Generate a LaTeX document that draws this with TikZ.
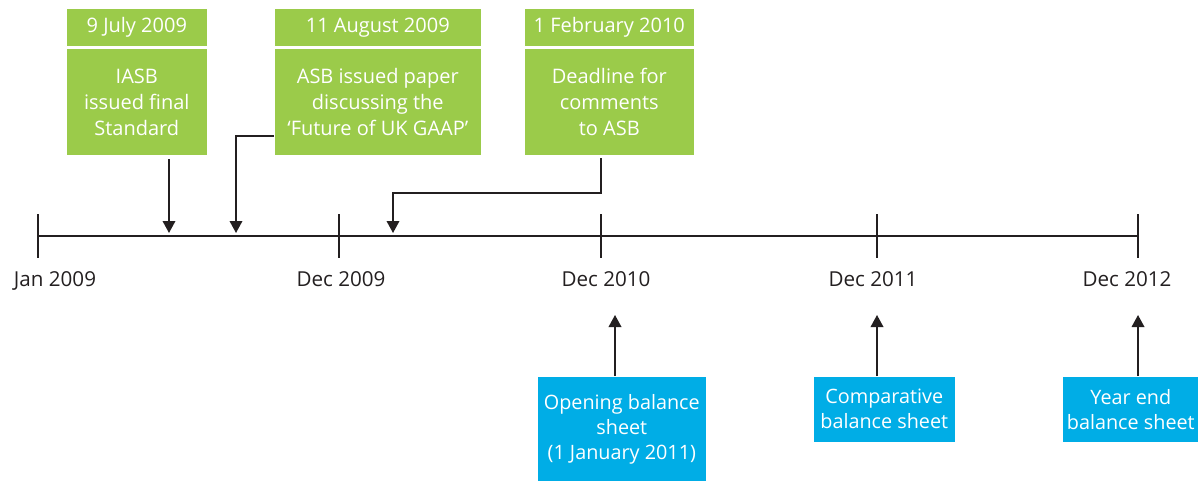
\documentclass[tikz,border=0pt]{standalone}
\usepackage{fontspec}
\setmainfont{Open Sans}
\usepackage{tikz}
\usetikzlibrary{arrows.meta, positioning}

\definecolor{leaf}{HTML}{9BCB4A}
\definecolor{sky}{HTML}{00ADE6}
\definecolor{ink}{HTML}{231F20}

\begin{document}
\begin{tikzpicture}[x=0.5pt,y=-0.5pt,thick,color=ink,>={Triangle[width=6.3pt,length=6pt]},font=\fontsize{10}{13}\selectfont]
		\tikzstyle{datebox}=[fill=leaf,text=white,anchor=north west,minimum height=18.5pt,inner sep=0pt]
		\tikzstyle{eventbox}=[fill=leaf,text=white,align=center,minimum height=53pt,inner sep=0pt]
		\tikzstyle{sheetbox}=[fill=sky,text=white,align=center,anchor=north west,inner sep=0pt,font=\fontsize{9.9}{12.5}\selectfont]
		\tikzstyle{year}=[text=ink,anchor=base,font=\fontsize{10.3}{13}\selectfont]
		
		\useasboundingbox (0,0) rectangle (1198,481);
		
		% timeline
		\coordinate (t_0) at (38,236);
		\coordinate (t_1) at (339,236);
		\coordinate (t_2) at (601,236);
		\coordinate (t_3) at (877,236);
		\coordinate (t_4) at (1138,236);
		\draw (t_0) -- (t_4);
		\draw (t_0) ++(0,-22) -- ++(0,44);
		\draw (t_1) ++(0,-22) -- ++(0,44);
		\draw (t_2) ++(0,-22) -- ++(0,44);
		\draw (t_3) ++(0,-22) -- ++(0,44);
		\draw (t_4) ++(0,-22) -- ++(0,44);
		
		\node (y_0) at (55,286) [year] {Jan 2009};
		\node (y_1) at (341,286) [year] {Dec 2009};
		\node (y_2) at (606,286) [year] {Dec 2010};
		\node (y_3) at (873,286) [year] {Dec 2011};
		\node (y_4) at (1127,286) [year] {Dec 2012};
		
		% events
		\node (h_1) at (66,8) [datebox,minimum width=70pt] {9 July 2009};
		\node (e_1) [eventbox,minimum width=70pt,below=1pt of h_1] {IASB\\issued final\\Standard};
		\node (h_2) at (274,8) [datebox,minimum width=103pt] {11 August 2009};
		\node (e_2) [eventbox,minimum width=103pt,below=1pt of h_2] {ASB issued paper\\discussing the\\`Future of UK GAAP'};
		\node (h_3) at (524,8) [datebox,minimum width=84.5pt] {1 February 2010};
		\node (e_3) [eventbox,minimum width=84.5pt,below=1pt of h_3] {Deadline for\\comments\\to ASB};
		
		\coordinate (p_1) at (169,236);
		\coordinate (p_2) at (236,236);
		\coordinate (p_3) at (393,236);
		\coordinate (k) at (601,193);
		
		\draw[->,shorten <=1.5pt,shorten >=1.5pt] (e_1.south -| p_1) -- (p_1);
		\draw[->,shorten >=1.5pt] ([yshift=10pt]e_2.south west) -| (p_2);
		\draw[->,shorten >=1.5pt] ([yshift=-1pt]e_3.south -| k) -- (k) -| (p_3);
		
		% balance sheets
		\node (b_1) at (537,376) [sheetbox,minimum width=84pt,minimum height=52.5pt] {Opening balance\\sheet\\(1 January 2011)};
		\node (b_2) at (813,376) [sheetbox,minimum width=70.5pt,minimum height=32.5pt] {Comparative\\balance sheet};
		\node (b_3) at (1062,376) [sheetbox,minimum width=68pt,minimum height=32.5pt] {Year end\\balance sheet};
		
		\coordinate (a_1) at (615,315);
		\coordinate (a_2) at (877,315);
		\coordinate (a_3) at (1138,315);
		
		\draw[->] (b_1.north -| a_1) -- (a_1);
		\draw[->] (b_2.north -| a_2) -- (a_2);
		\draw[->] (b_3.north -| a_3) -- (a_3);
	
	\end{tikzpicture}
\end{document}
